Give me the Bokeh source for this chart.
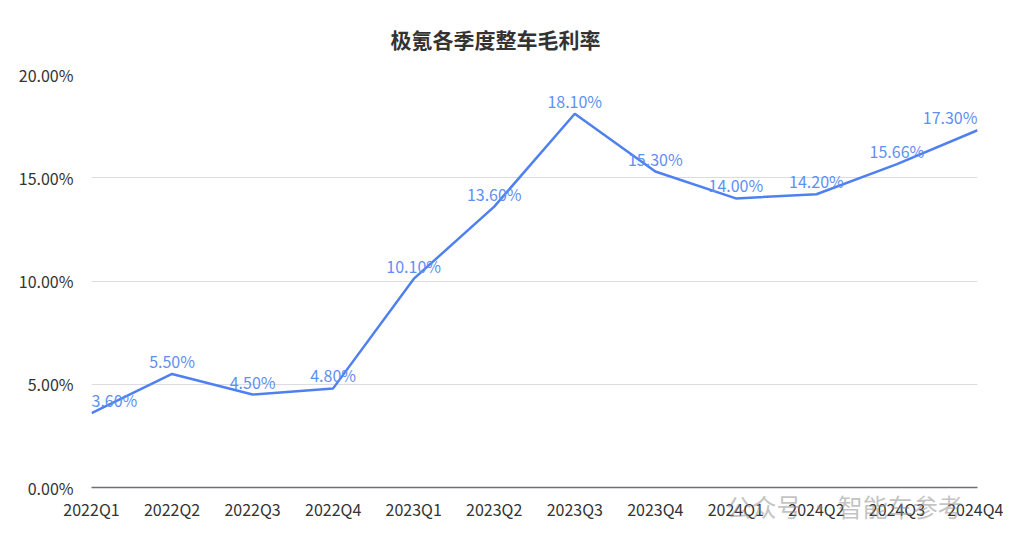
from bokeh.plotting import figure
from bokeh.models import ColumnDataSource, LabelSet, LinearAxis, FixedTicker, PrintfTickFormatter, Range1d
from bokeh.core.properties import value
from bokeh.embed import file_html
from bokeh.resources import INLINE

categories = ["2022Q1", "2022Q2", "2022Q3", "2022Q4", "2023Q1", "2023Q2",
              "2023Q3", "2023Q4", "2024Q1", "2024Q2", "2024Q3", "2024Q4"]
margin = [3.60, 5.50, 4.50, 4.80, 10.10, 13.60, 18.10, 15.30, 14.00, 14.20, 15.66, 17.30]
y_ticks = [0, 5, 10, 15, 20]
title_text = "极氪各季度整车毛利率"
watermark_text = "公众号  ·  智能车参考"

FONT = "Noto Sans CJK SC"
xs = list(range(len(categories)))
n = len(categories)
aligns = ["left" if i == 0 else ("right" if i == n - 1 else "center") for i in xs]
labels = ["%.2f%%" % v for v in margin]
src = ColumnDataSource(dict(x=xs, y=margin, label=labels, align=aligns))

p = figure(width=1003, height=540, output_backend="svg", toolbar_location=None,
           x_range=Range1d(0, n - 1), y_range=Range1d(0, 20),
           min_border_left=91, min_border_right=26, min_border_top=74, min_border_bottom=53)
p.outline_line_color = None
p.background_fill_color = "white"

p.line("x", "y", source=src, line_color="#4f80f0", line_width=2.5)

ls = LabelSet(x="x", y="y", text="label", source=src, text_align="align",
              text_baseline="bottom", y_offset=1, text_color="#5f8ff3",
              text_font_size="16px", text_font=value(FONT))
p.add_layout(ls)

# x axis
p.xaxis.ticker = FixedTicker(ticks=xs)
p.xaxis.major_label_overrides = {i: c for i, c in enumerate(categories)}
p.xaxis.axis_line_color = "#6e7079"
p.xaxis.axis_line_width = 1.5
p.xaxis.major_tick_line_color = None
p.xaxis.minor_tick_line_color = None
p.xaxis.major_label_text_font = FONT
p.xaxis.major_label_text_font_size = "16px"
p.xaxis.major_label_text_color = "#333333"
p.xaxis.major_label_standoff = 3

# watermark as an extra, overlapping bottom axis
wm_x = 9.42
wm_axis = LinearAxis(ticker=FixedTicker(ticks=[wm_x]),
                     major_label_overrides={wm_x: watermark_text},
                     axis_line_color=None, major_tick_line_color=None,
                     minor_tick_line_color=None,
                     major_label_text_font=FONT, major_label_text_font_size="25px",
                     major_label_text_color="#888888", major_label_text_alpha=0.5,
                     major_label_standoff=-42)
p.add_layout(wm_axis, "below")

# y axis
p.yaxis.ticker = FixedTicker(ticks=y_ticks)
p.yaxis.formatter = PrintfTickFormatter(format="%.2f%%")
p.yaxis.axis_line_color = None
p.yaxis.major_tick_line_color = None
p.yaxis.minor_tick_line_color = None
p.yaxis.major_label_text_font = FONT
p.yaxis.major_label_text_font_size = "16px"
p.yaxis.major_label_text_color = "#333333"
p.yaxis.major_label_standoff = 12

p.xgrid.grid_line_color = None
p.ygrid.grid_line_color = "#dcdce0"
p.ygrid.ticker = FixedTicker(ticks=y_ticks)

# title
p.title.text = title_text
p.title.align = "left"
p.title.offset = 299
p.title.text_font = FONT
p.title.text_font_size = "21px"
p.title.text_font_style = "bold"
p.title.text_color = "#333333"
p.title.standoff = 41

open("out.html", "w").write(file_html(p, INLINE))
